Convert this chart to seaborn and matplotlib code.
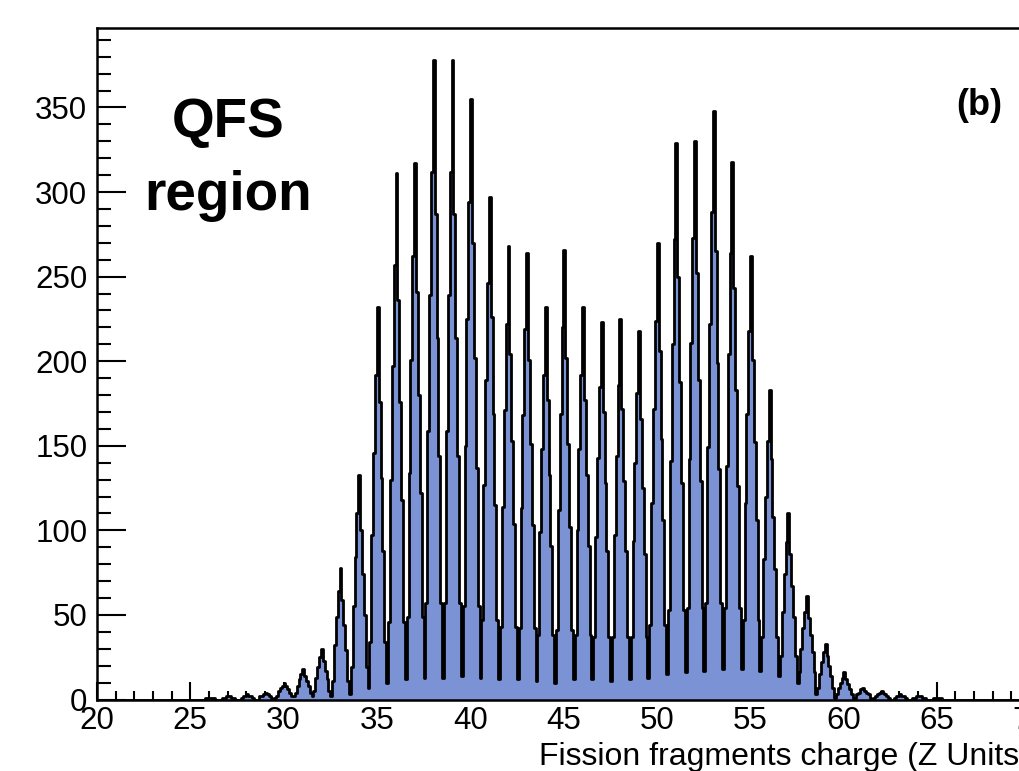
import numpy as np
import pandas as pd
import matplotlib
matplotlib.use("Agg")
import matplotlib.pyplot as plt
import seaborn as sns
from matplotlib.ticker import MultipleLocator

# Fission-fragment charge spectrum, 0.1-Z bins between Z = 20 and Z = 70
z_min, z_max, bin_width = 20, 70, 0.1

# charge of each peak and the counts in its highest bin
peak_z = [26, 27, 28, 29, 30, 31, 32, 33, 34, 35, 36, 37, 38, 39, 40, 41, 42, 43, 44, 45,
          46, 47, 48, 49, 50, 51, 52, 53, 54, 55, 56, 57, 58, 59, 60, 61, 62, 63, 64, 65]
peak_counts = [1, 2, 3, 4, 10, 18, 30, 78, 133, 232, 311, 317, 378, 378, 355, 297, 268, 264, 232, 266,
               232, 223, 225, 218, 270, 329, 330, 348, 318, 262, 183, 110, 61, 33, 16, 7, 5, 3, 2, 1]
# counts at the valley on the low-Z side of each peak
valley_counts = [0, 0, 0, 0, 1, 2, 2, 2, 3, 7, 10, 12, 13, 13, 14, 13, 12, 12, 11, 10,
                 12, 12, 11, 12, 13, 15, 16, 17, 18, 18, 17, 14, 10, 3, 1, 0, 0, 0, 0, 0]
# relative rise above the valley for the bins from 5 below to 4 above the peak bin
peak_profile = [0.0, 0.12, 0.40, 0.62, 0.82, 1.00, 0.75, 0.55, 0.36, 0.12]

n_bins = int(round((z_max - z_min) / bin_width))
edges = np.linspace(z_min, z_max, n_bins + 1)
centers = 0.5 * (edges[:-1] + edges[1:])
counts = np.zeros(n_bins)
for z, top, floor in zip(peak_z, peak_counts, valley_counts):
    i0 = int(round((z - z_min) / bin_width))
    for k, frac in enumerate(peak_profile):
        counts[i0 + k - 5] = round(floor + (top - floor) * frac)

df = pd.DataFrame({"charge": centers, "counts": counts})
bin_edges = [float(e) for e in edges]

sns.set_style("ticks")
plt.rcParams["font.family"] = ["Liberation Sans", "DejaVu Sans"]
plt.rcParams["text.color"] = "black"
plt.rcParams["axes.labelcolor"] = "black"
plt.rcParams["xtick.color"] = "black"
plt.rcParams["ytick.color"] = "black"

W, H = 1020, 771
fig = plt.figure(figsize=(W / 100, H / 100), dpi=100)
x0, x1, y_top, y_bot = 97, 1030, 28, 699.5
ax = fig.add_axes([x0 / W, (H - y_bot) / H, (x1 - x0) / W, (y_bot - y_top) / H])

fill_color = "#7b93d5"
sns.histplot(data=df, x="charge", weights="counts", bins=bin_edges, element="step",
             fill=True, color=fill_color, alpha=1, linewidth=0, ax=ax)
sns.histplot(data=df, x="charge", weights="counts", bins=bin_edges, element="step",
             fill=False, color="black", linewidth=2.0, ax=ax)

ax.set_xlim(z_min, z_max)
ax.set_ylim(0, 397)
ax.set_ylabel("")
ax.set_xlabel("Fission fragments charge (Z Units)", fontsize=23, loc="right", color="black")
ax.xaxis.set_label_coords(1.0, -0.063)

ax.xaxis.set_major_locator(MultipleLocator(5))
ax.xaxis.set_minor_locator(MultipleLocator(1))
ax.yaxis.set_major_locator(MultipleLocator(50))
ax.yaxis.set_minor_locator(MultipleLocator(10))
ax.tick_params(axis="x", which="major", direction="in", length=13, width=1.5,
               labelsize=22.5, pad=5, colors="black")
ax.tick_params(axis="x", which="minor", direction="in", length=6.5, width=1.5)
ax.tick_params(axis="y", which="major", direction="in", length=21, width=1.5,
               labelsize=22.5, pad=7, colors="black")
ax.tick_params(axis="y", which="minor", direction="in", length=10, width=1.5)
for side in ["left", "bottom", "top", "right"]:
    ax.spines[side].set_visible(True)
    ax.spines[side].set_color("black")
    ax.spines[side].set_linewidth(1.8)

fig.text(228 / W, (H - 137) / H, "QFS", ha="center", va="baseline",
         fontsize=39.5, fontweight="bold", color="black")
fig.text(228 / W, (H - 210) / H, "region", ha="center", va="baseline",
         fontsize=39.5, fontweight="bold", color="black")
fig.text(1002 / W, (H - 115) / H, "(b)", ha="right", va="baseline",
         fontsize=26, fontweight="bold", color="black")

fig.savefig("out.png", dpi=100)
